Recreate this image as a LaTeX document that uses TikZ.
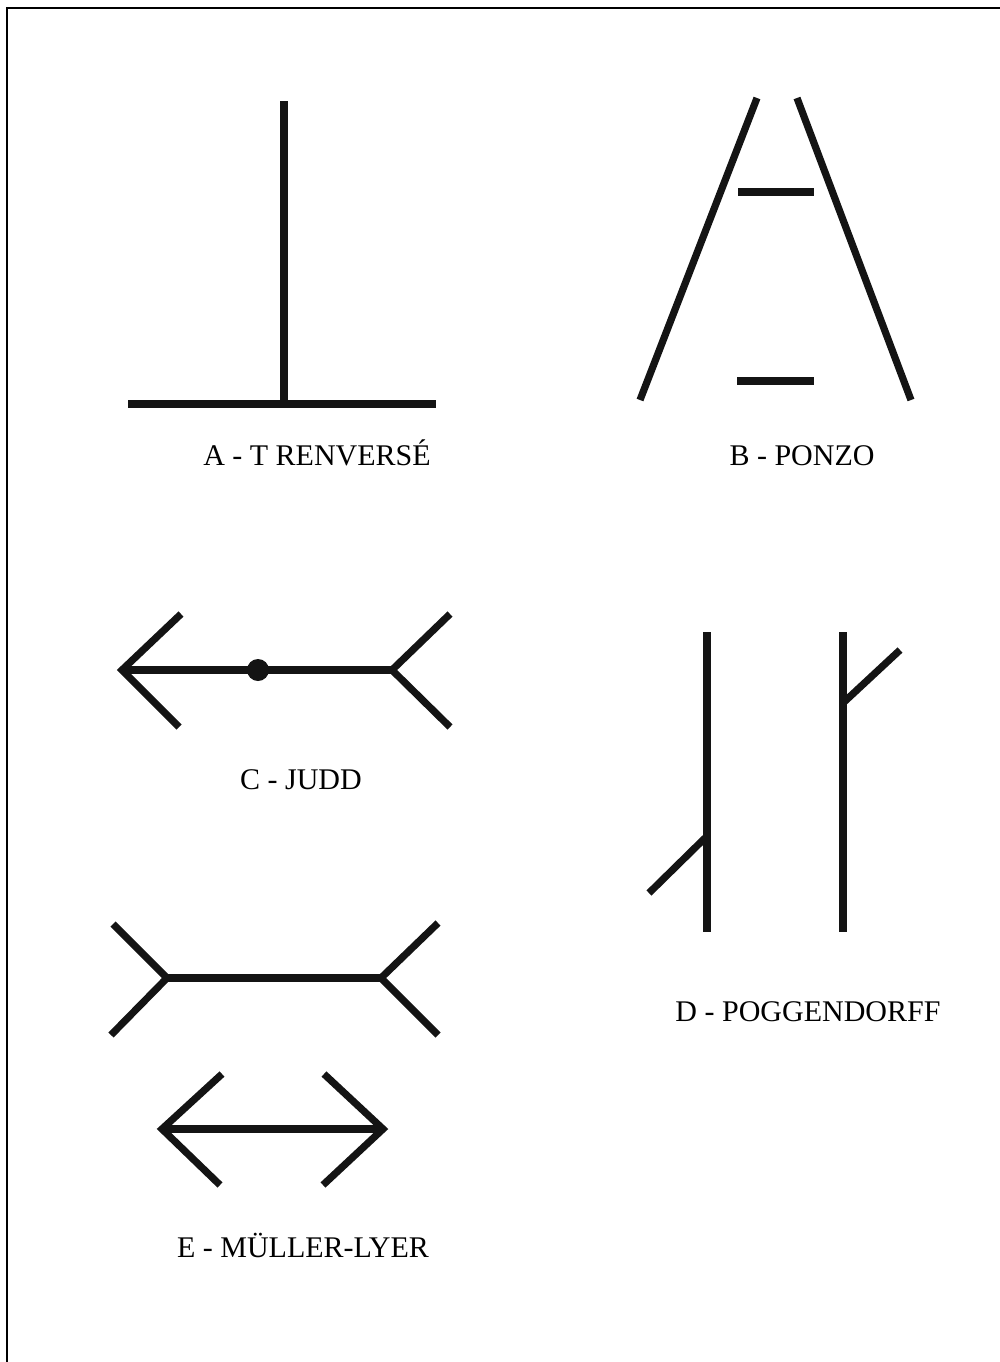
\documentclass[tikz,border=0pt]{standalone}
\usepackage{fontspec}
\setmainfont{Liberation Serif}
\begin{document}
\begin{tikzpicture}[x=0.5pt,y=-0.5pt,
  fig/.style={line width=3.6pt,color=black!92,line join=miter},
  frame/.style={line width=1pt,color=black},
  lbl/.style={font=\fontsize{15pt}{17pt}\selectfont,inner sep=0pt,anchor=base}]
\useasboundingbox (0,0) rectangle (1000,1362);
% page frame
\draw[frame] (1000,8) -- (7,8) -- (7,1362);
% A - T renverse
\draw[fig] (284,101) -- (284,404);
\draw[fig] (128,404) -- (436,404);
\node[lbl] (la) at (317,465) {A - T RENVERSÉ};
% B - Ponzo
\draw[fig] (757,98) -- (640,400);
\draw[fig] (797,98) -- (911,400);
\draw[fig] (738,192) -- (814,192);
\draw[fig] (737,381) -- (814,381);
\node[lbl] (lb) at (802,465) {B - PONZO};
% C - Judd
\draw[fig] (181,614) -- (122,670) -- (179,727);
\draw[fig] (122,670) -- (392,670);
\draw[fig] (450,614) -- (392,670) -- (450,727);
\fill[black!92] (258,670) circle (11);
\node[lbl] (lc) at (301,789) {C - JUDD};
% D - Poggendorff
\draw[fig] (707,632) -- (707,932);
\draw[fig] (705,838) -- (649,893);
\draw[fig] (843,632) -- (843,932);
\draw[fig] (843,703) -- (900,650);
\node[lbl] (ld) at (808,1021) {D - POGGENDORFF};
% E - Muller-Lyer
\draw[fig] (113,924) -- (167,978) -- (111,1035);
\draw[fig] (167,978) -- (381,978);
\draw[fig] (438,923) -- (381,978) -- (438,1035);
\draw[fig] (222,1074) -- (162,1129) -- (220,1185);
\draw[fig] (162,1129) -- (383,1129);
\draw[fig] (324,1074) -- (383,1129) -- (323,1185);
\node[lbl] (le) at (303,1257) {E - MÜLLER-LYER};
\end{tikzpicture}
\end{document}
